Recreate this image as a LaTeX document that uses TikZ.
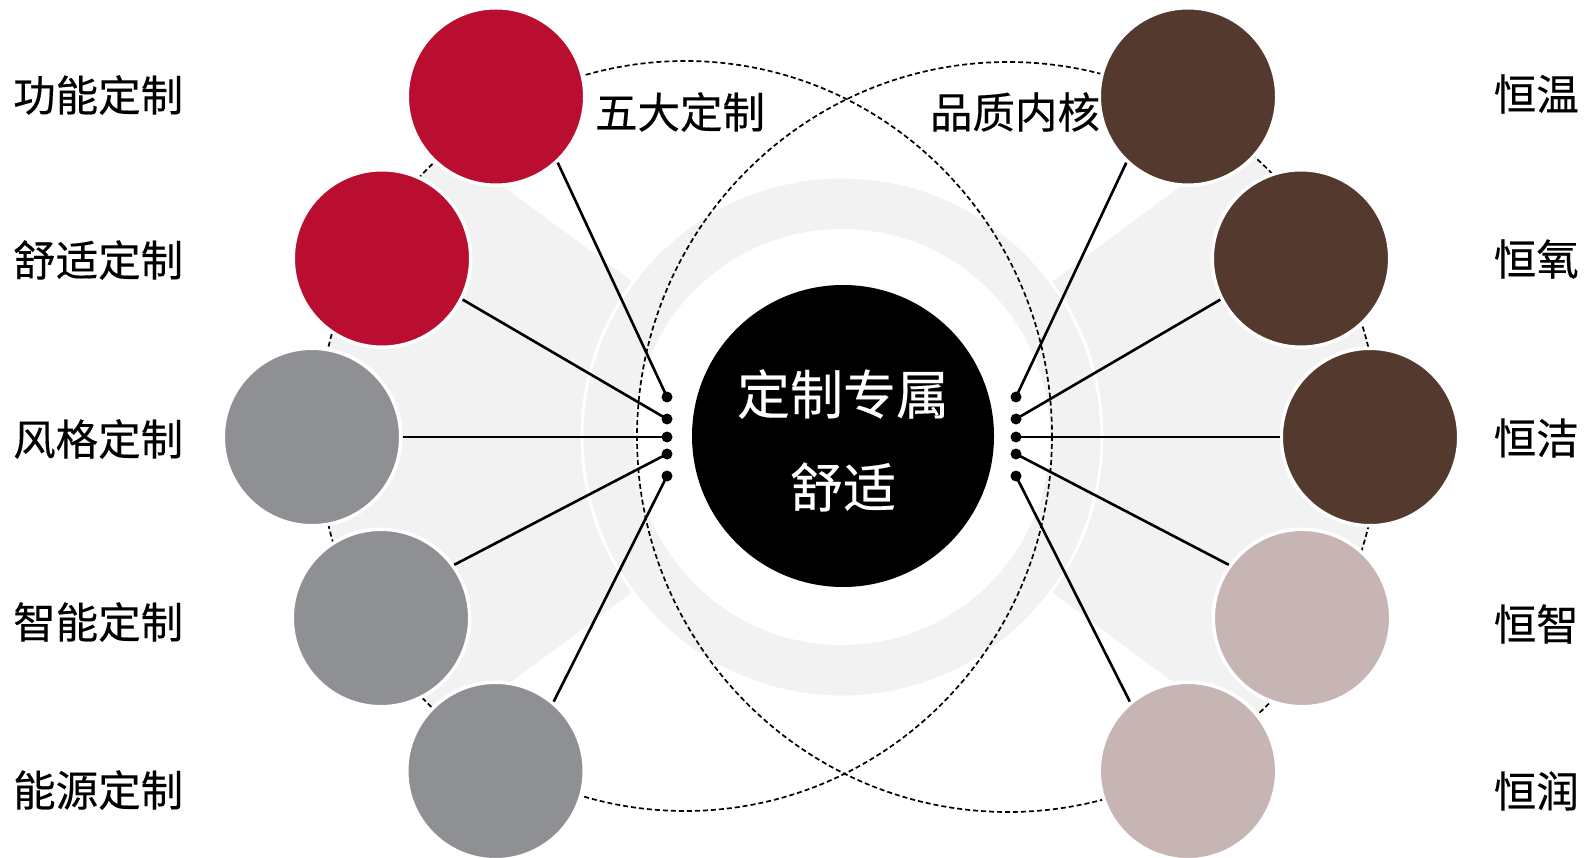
\documentclass[tikz,border=0pt]{standalone}
\usepackage{fontspec}
\setmainfont[FakeBold=0.3,AutoFakeBold=0.3]{Noto Sans CJK SC}
\definecolor{cred}{RGB}{185,14,48}
\definecolor{cgray}{RGB}{143,144,148}
\definecolor{cbrown}{RGB}{84,58,46}
\definecolor{cpink}{RGB}{198,181,178}
\definecolor{bgg}{RGB}{242,242,242}
\tikzset{
 bub/.style={circle, inner sep=0pt, minimum size=177.5pt, draw=white, line width=3.5pt},
 dotn/.style={circle, fill=black, inner sep=0pt, minimum size=11pt},
 conn/.style={line width=2.6pt, black},
 dsh/.style={line width=1.7pt, dash pattern=on 5pt off 3pt},
 lab/.style={font=\fontsize{42.5pt}{42.5pt}\selectfont\bfseries, inner sep=0pt, text=black},
 ctext/.style={font=\fontsize{53pt}{53pt}\selectfont\bfseries, inner sep=0pt, text=white},
}
\begin{document}
\begin{tikzpicture}[x=1pt,y=-1pt]
\useasboundingbox (0,0) rectangle (1585,858);
\fill[white] (0,0) rectangle (1585,858);
\coordinate (C) at (842,437);
% background wedges
\begin{scope}
 \clip (685,436) ellipse [x radius=367, y radius=375];
 \fill[bgg] (C) -- ++(-800,-592) -- ++(0,1184) -- cycle;
\end{scope}
\begin{scope}
 \clip (1008,437) ellipse [x radius=371, y radius=375];
 \fill[bgg] (C) -- ++(800,-592) -- ++(0,1184) -- cycle;
\end{scope}
% annulus
\fill[bgg, draw=white, line width=3pt] (C) circle [radius=260];
\fill[white] (C) circle [radius=208];
% dashed ellipses
\draw[dsh] (685,436) ellipse [x radius=367, y radius=375];
\draw[dsh] (1008,437) ellipse [x radius=371, y radius=375];
% core
\node[circle, fill=black, minimum size=302pt, inner sep=0pt] (core) at (843,436) {};
\node[ctext] (t1) at (843,394) {定制专属};
\node[ctext] (t2) at (843,487) {舒适};
% dots
\node[dotn] (a1) at (667,397) {};
\node[dotn] (a2) at (667,419) {};
\node[dotn] (a3) at (667,437) {};
\node[dotn] (a4) at (667,454) {};
\node[dotn] (a5) at (667,476) {};
\node[dotn] (b1) at (1016,397) {};
\node[dotn] (b2) at (1016,419) {};
\node[dotn] (b3) at (1016,437) {};
\node[dotn] (b4) at (1016,454) {};
\node[dotn] (b5) at (1016,476) {};
% circles
\node[bub, fill=cred] (L1) at (496,96.5) {};
\node[bub, fill=cred] (L2) at (382,258.5) {};
\node[bub, fill=cgray] (L3) at (312,437) {};
\node[bub, fill=cgray] (L4) at (381,618) {};
\node[bub, fill=cgray] (L5) at (495.5,771) {};
\node[bub, fill=cbrown] (R1) at (1188,96.5) {};
\node[bub, fill=cbrown] (R2) at (1301,258.5) {};
\node[bub, fill=cbrown] (R3) at (1370,437) {};
\node[bub, fill=cpink] (R4) at (1302,618) {};
\node[bub, fill=cpink] (R5) at (1188,771) {};
% connectors
\draw[conn] (L1.-47) -- (a1.center);
\draw[conn] (L2.-27) -- (a2.center);
\draw[conn] (L3.0) -- (a3.center);
\draw[conn] (L4.36) -- (a4.center);
\draw[conn] (L5.50) -- (a5.center);
\draw[conn] (R1.-133) -- (b1.center);
\draw[conn] (R2.-153) -- (b2.center);
\draw[conn] (R3.180) -- (b3.center);
\draw[conn] (R4.144) -- (b4.center);
\draw[conn] (R5.130) -- (b5.center);
% group labels
\node[lab] (g1) at (680,112) {五大定制};
\node[lab] (g2) at (1015,112) {品质内核};
% left labels
\node[lab, anchor=west] (l1) at (13,95) {功能定制};
\node[lab, anchor=west] (l2) at (13,260) {舒适定制};
\node[lab, anchor=west] (l3) at (13,439) {风格定制};
\node[lab, anchor=west] (l4) at (13,622) {智能定制};
\node[lab, anchor=west] (l5) at (13,790) {能源定制};
% right labels
\node[lab, anchor=east] (r1) at (1579,94) {恒温};
\node[lab, anchor=east] (r2) at (1579,259) {恒氧};
\node[lab, anchor=east] (r3) at (1579,438) {恒洁};
\node[lab, anchor=east] (r4) at (1579,624) {恒智};
\node[lab, anchor=east] (r5) at (1579,791) {恒润};
\end{tikzpicture}
\end{document}
